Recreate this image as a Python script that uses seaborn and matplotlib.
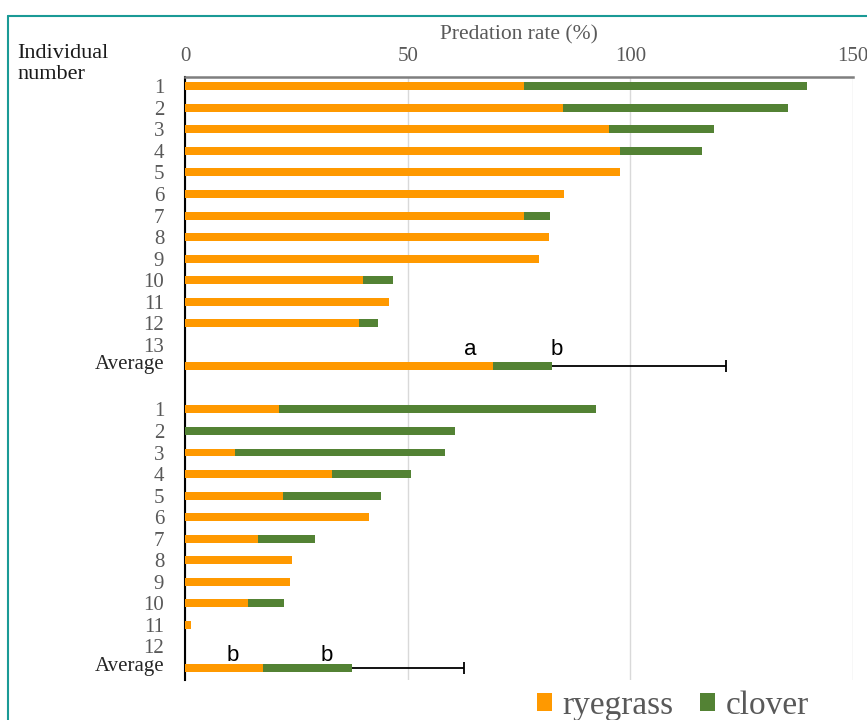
import matplotlib
matplotlib.use("Agg")
import matplotlib.pyplot as plt
from matplotlib.lines import Line2D
from matplotlib.patches import Patch
from matplotlib.transforms import ScaledTranslation
import seaborn as sns
import pandas as pd

# ---------------- data ----------------
labels_g1 = ['1', '2', '3', '4', '5', '6', '7', '8', '9', '10', '11', '12', '13', 'Average']
ryegrass_g1 = [76.1, 84.8, 95.2, 97.7, 97.7, 85.2, 76.1, 81.8, 79.4, 39.9, 45.7, 39.0, 0, 69.1]
clover_g1 = [63.6, 50.6, 23.5, 18.4, 0, 0, 5.9, 0, 0, 6.9, 0, 4.4, 0, 13.2]
err_g1 = 39.1
letters_g1 = ['a', 'b']

labels_g2 = ['1', '2', '3', '4', '5', '6', '7', '8', '9', '10', '11', '12', 'Average']
ryegrass_g2 = [21.0, 0, 11.3, 33.0, 22.0, 41.4, 16.4, 24.1, 23.6, 14.2, 1.4, 0, 17.5]
clover_g2 = [71.2, 60.6, 47.0, 17.8, 22.0, 0, 12.9, 0, 0, 8.1, 0, 0, 19.9]
err_g2 = 25.2
letters_g2 = ['b', 'b']

series_names = ['ryegrass', 'clover']
x_ticks = [0, 50, 100, 150]
x_label = 'Predation rate (%)'
y_title = 'Individual\nnumber'

ORANGE = '#FF9900'
GREEN = '#538234'
GRAY = '#595959'

# ------------- build table -------------
pos_g1 = list(range(len(labels_g1)))
pos_g2 = [len(labels_g1) + 1 + i for i in range(len(labels_g2))]
df = pd.DataFrame({
    'pos': pos_g1 + pos_g2,
    'label': labels_g1 + labels_g2,
    'ryegrass': ryegrass_g1 + ryegrass_g2,
    'clover': clover_g1 + clover_g2,
})
df['total'] = df['ryegrass'] + df['clover']

# ------------- figure -------------
sns.set_style('white')
plt.rcParams['font.family'] = ['Liberation Serif', 'DejaVu Serif']

fig = plt.figure(figsize=(8.67, 7.2), dpi=100)
ax = fig.add_axes([185 / 867, 1 - 680 / 720, (853 - 185) / 867, (680 - 77) / 720])

sns.barplot(data=df, x='total', y='pos', orient='h', native_scale=True,
            color=GREEN, width=0.37, linewidth=0, errorbar=None, ax=ax,
            zorder=3, saturation=1)
sns.barplot(data=df, x='ryegrass', y='pos', orient='h', native_scale=True,
            color=ORANGE, width=0.37, linewidth=0, errorbar=None, ax=ax,
            zorder=4, saturation=1)

# one-sided error bars for averages + significance letters
letter_x = {0: (64.0, 83.5), 1: (10.8, 31.9)}
letter_dy = {0: -0.8, 1: -0.6}
for gi, (pos, errv, letters) in enumerate(((pos_g1, err_g1, letters_g1),
                                           (pos_g2, err_g2, letters_g2))):
    row = df[df['pos'] == pos[-1]].iloc[0]
    t = row['total']
    ax.hlines(row['pos'], t, t + errv, color='black', lw=1.3, zorder=2)
    ax.plot([t + errv], [row['pos']], marker='|', markersize=8, mew=1.3,
            color='black', zorder=2)
    for lx, letter in zip(letter_x[gi], letters):
        ax.text(lx, row['pos'] + letter_dy[gi], letter,
                family=['Liberation Sans'], fontsize=16, ha='center',
                va='center', color='black', zorder=5)

ax.set_xlim(0, 150)
ax.set_ylim(pos_g2[-1] + 0.56, -0.43)

ax.xaxis.tick_top()
ax.xaxis.set_label_position('top')
ax.set_xticks(x_ticks)
ax.set_xticklabels([str(v) for v in x_ticks])
ax.tick_params(axis='x', length=0, pad=8, labelsize=15, labelcolor=GRAY)
ax.set_xlabel(x_label, fontsize=15.5, color=GRAY, labelpad=5)

ax.set_yticks(df['pos'])
ax.set_yticklabels(df['label'])
ax.tick_params(axis='y', length=0, pad=15, labelsize=15)
for tl in ax.get_yticklabels():
    if tl.get_text() == 'Average':
        tl.set_color('#262626')
        tl.set_transform(tl.get_transform() +
                         ScaledTranslation(0, 4 / 100, fig.dpi_scale_trans))
    else:
        tl.set_color(GRAY)
ax.set_ylabel('')

ax.grid(axis='x', color='#d9d9d9', lw=1)
ax.grid(axis='y', visible=False)
ax.set_axisbelow(True)

for side in ('right', 'bottom'):
    ax.spines[side].set_visible(False)
ax.spines['left'].set_color('black')
ax.spines['left'].set_linewidth(1.5)
ax.spines['top'].set_color('#7f7f7f')
ax.spines['top'].set_linewidth(1.8)

fig.text(17 / 867, 1 - 64 / 720, y_title, ha='left', va='center',
         fontsize=16, color='#1a1a1a', linespacing=1.2)

handles = [Patch(facecolor=ORANGE, edgecolor='none'),
           Patch(facecolor=GREEN, edgecolor='none')]
fig.legend(handles, series_names, loc='center', ncol=2,
           bbox_to_anchor=(673 / 867, 1 - 706 / 720), frameon=False,
           fontsize=24, handlelength=0.45, handleheight=0.45,
           handletextpad=0.3, columnspacing=0.8, labelcolor=GRAY,
           borderpad=0, borderaxespad=0)

# teal frame
fig.add_artist(Line2D([8 / 867, 8 / 867], [0, 1 - 16 / 720],
                      transform=fig.transFigure, color='#1a9a96', lw=1.5))
fig.add_artist(Line2D([8 / 867, 1], [1 - 16 / 720, 1 - 16 / 720],
                      transform=fig.transFigure, color='#1a9a96', lw=1.5))

fig.savefig('out.png', dpi=100)
